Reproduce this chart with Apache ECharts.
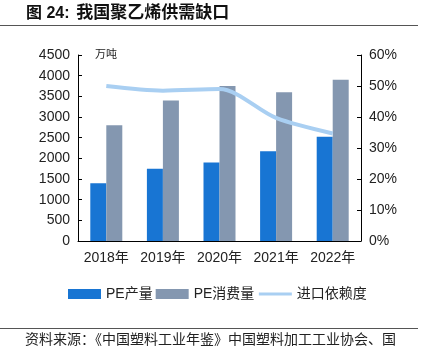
<!DOCTYPE html>
<html>
<head>
<meta charset="utf-8">
<script src="https://cdn.jsdelivr.net/npm/echarts@6/dist/echarts.min.js"></script>
<style>
  html, body { margin: 0; padding: 0; background: #fff; }
  #main { width: 421px; height: 351px; }
</style>
</head>
<body>
<div id="main"></div>
<script>
// 数据
var years = ['2018年', '2019年', '2020年', '2021年', '2022年'];
var peOutput = [1400, 1750, 1900, 2170, 2520];      // PE产量 万吨
var peConsume = [2800, 3400, 3750, 3600, 3900];     // PE消费量 万吨
var importDep = [0.50, 0.485, 0.49, 0.397, 0.347];  // 进口依赖度

var font = '"Liberation Sans", Arial, "Noto Sans CJK SC", sans-serif';
var chart = echarts.init(document.getElementById('main'));

var option = {
  animation: false,
  textStyle: { fontFamily: font },
  grid: { left: 78, right: 60, top: 55, bottom: 110 },
  legend: {
    bottom: 45,
    left: 63,
    itemGap: 3,
    itemWidth: 33,
    itemHeight: 10,
    textStyle: { fontSize: 14, color: '#222', fontFamily: font },
    data: [
      { name: 'PE产量', icon: 'rect' },
      { name: 'PE消费量', icon: 'rect' },
      { name: '进口依赖度', itemStyle: { opacity: 0 }, lineStyle: { width: 3 } }
    ]
  },
  xAxis: {
    type: 'category',
    data: years,
    axisLine: { lineStyle: { color: '#000', width: 1 } },
    axisTick: { inside: true, length: 4, lineStyle: { color: '#000' } },
    axisLabel: { fontSize: 14, color: '#222', margin: 10, interval: 0 }
  },
  yAxis: [
    {
      type: 'value', min: 0, max: 4500, interval: 500,
      axisLine: { show: true, lineStyle: { color: '#000' } },
      axisTick: { show: true, inside: true, length: 4, lineStyle: { color: '#000' } },
      axisLabel: {
        fontSize: 14, color: '#222', margin: 8,
        formatter: function (v) { return String(v); }
      },
      splitLine: { show: false }
    },
    {
      type: 'value', min: 0, max: 0.6, interval: 0.1,
      axisLine: { show: true, lineStyle: { color: '#000' } },
      axisTick: { show: true, inside: true, length: 4, lineStyle: { color: '#000' } },
      axisLabel: {
        fontSize: 14, color: '#222', margin: 8,
        formatter: function (v) { return Math.round(v * 100) + '%'; }
      },
      splitLine: { show: false }
    }
  ],
  series: [
    {
      name: 'PE产量', type: 'bar', data: peOutput,
      barWidth: 16, barGap: '0%',
      itemStyle: { color: '#1875D3' }
    },
    {
      name: 'PE消费量', type: 'bar', data: peConsume,
      barWidth: 16,
      itemStyle: { color: '#8497B0' }
    },
    {
      name: '进口依赖度', type: 'line', yAxisIndex: 1, data: importDep,
      symbol: 'none', smooth: 0.3,
      lineStyle: { color: '#A9CFF2', width: 4 },
      itemStyle: { color: '#A9CFF2' }
    }
  ],
  graphic: [
    {
      type: 'text', left: 26, top: 5,
      style: {
        text: '{a|图 24:}  {b|我国聚乙烯供需缺口}',
        rich: {
          a: { font: 'bold 16px ' + font, fill: '#111' },
          b: { font: 'bold 17px ' + font, fill: '#111' }
        }
      }
    },
    {
      type: 'line', shape: { x1: 0, y1: 25.5, x2: 418, y2: 25.5 },
      style: { stroke: '#555', lineWidth: 1 }
    },
    {
      type: 'text', left: 95, top: 49,
      style: { text: '万吨', font: '11px ' + font, fill: '#222' }
    },
    {
      type: 'line', shape: { x1: 0, y1: 328.5, x2: 418, y2: 328.5 },
      style: { stroke: '#555', lineWidth: 1 }
    },
    {
      type: 'text', left: 25, top: 333,
      style: { text: '资料来源：《中国塑料工业年鉴》中国塑料加工工业协会、国', font: '14px ' + font, fill: '#222' }
    }
  ]
};

chart.setOption(option);
</script>
</body>
</html>
